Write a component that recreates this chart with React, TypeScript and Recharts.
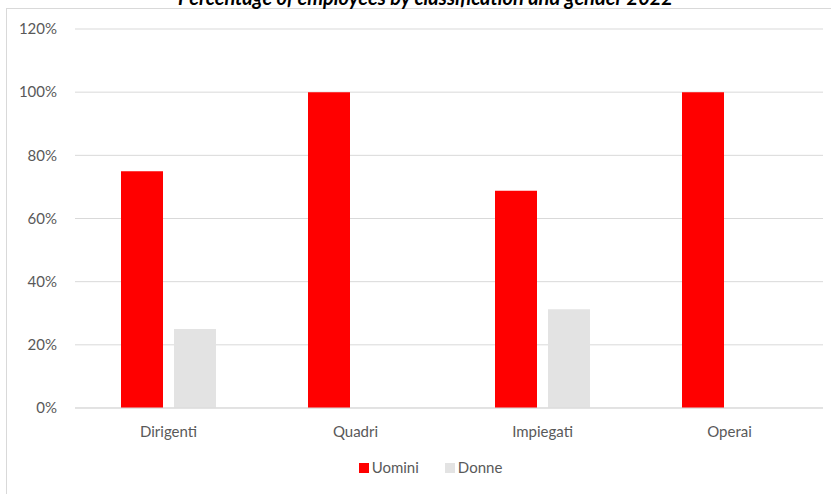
import { BarChart, Bar, XAxis, YAxis, CartesianGrid, Legend } from "recharts";

const CATEGORIES = ["Dirigenti", "Quadri", "Impiegati", "Operai"];
const UOMINI = [75, 100, 68.75, 100];
const DONNE = [25, 0, 31.25, 0];
const Y_TICKS = [0, 20, 40, 60, 80, 100, 120];
const SERIES = [
  { key: "Uomini", color: "#ff0000" },
  { key: "Donne", color: "#e3e3e3" },
];

const data = CATEGORIES.map((name, i) => ({
  name,
  Uomini: UOMINI[i],
  Donne: DONNE[i],
}));

const FONT = "Lato, 'Open Sans', sans-serif";

function LegendBox() {
  return (
    <div
      style={{
        display: "flex",
        justifyContent: "center",
        gap: 26,
        height: 17,
        paddingLeft: 38,
      }}
    >
      {SERIES.map((s) => (
        <div key={s.key} style={{ display: "flex", alignItems: "center", gap: 3 }}>
          <span style={{ width: 10, height: 10, background: s.color, display: "inline-block" }} />
          <span style={{ color: "#595959", fontSize: 15, lineHeight: "17px" }}>{s.key}</span>
        </div>
      ))}
    </div>
  );
}

export default function App() {
  return (
    <div
      style={{
        position: "absolute",
        left: 0,
        top: 0,
        width: 831,
        height: 494,
        overflow: "hidden",
        background: "#fff",
        fontFamily: FONT,
      }}
    >
      <div
        style={{
          position: "absolute",
          left: 6,
          top: 8,
          width: 900,
          height: 600,
          border: "1px solid #d9d9d9",
        }}
      />
      <div
        style={{
          position: "absolute",
          top: -15,
          left: 0,
          width: 851,
          textAlign: "center",
          fontSize: 20,
          lineHeight: "24px",
          fontStyle: "italic",
          fontWeight: "bold",
          color: "#000",
        }}
      >
        Percentage of employees by classification and gender 2022
      </div>
      <div style={{ position: "absolute", left: 0, top: 0 }}>
        <BarChart
          width={831}
          height={494}
          data={data}
          margin={{ top: 29, right: 8, left: 0, bottom: 0 }}
          barCategoryGap="24.6%"
          barGap={11}
        >
          <CartesianGrid vertical={false} stroke="#d9d9d9" />
          <XAxis
            dataKey="name"
            axisLine={{ stroke: "#d9d9d9" }}
            tickLine={false}
            tick={{ fill: "#595959", fontSize: 15, fontFamily: FONT }}
            tickMargin={12}
            height={69}
          />
          <YAxis
            domain={[0, 120]}
            ticks={Y_TICKS}
            tickFormatter={(v) => `${v}%`}
            axisLine={false}
            tickLine={false}
            tick={{ fill: "#595959", fontSize: 15, fontFamily: FONT }}
            tickMargin={12}
            width={75}
          />
          <Legend
            verticalAlign="bottom"
            height={17}
            wrapperStyle={{ bottom: 18, fontFamily: FONT }}
            content={() => <LegendBox />}
          />
          <Bar dataKey="Uomini" fill="#ff0000" isAnimationActive={false} />
          <Bar dataKey="Donne" fill="#e3e3e3" isAnimationActive={false} />
        </BarChart>
      </div>
    </div>
  );
}
